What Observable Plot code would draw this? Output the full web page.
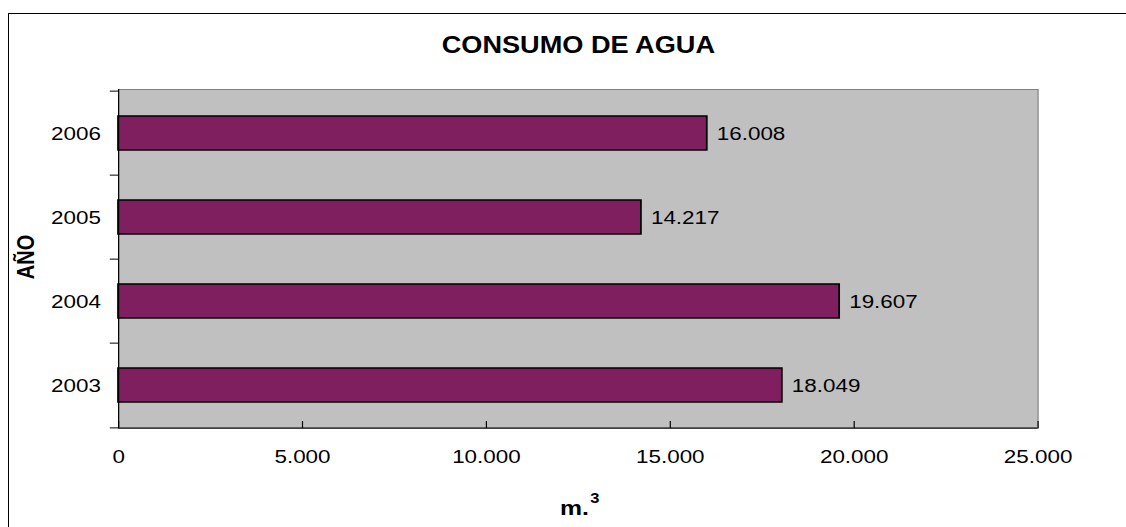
<!DOCTYPE html>
<html><head><meta charset="utf-8">
<script src="https://cdn.jsdelivr.net/npm/d3@7"></script>
<script src="https://cdn.jsdelivr.net/npm/@observablehq/plot@0.6"></script>
<style>
html,body{margin:0;padding:0;background:#fff;overflow:hidden;width:1126px;height:527px;}
#border{position:absolute;left:8px;top:13px;width:1200px;height:600px;border-left:1px solid #000;border-top:1px solid #000;}
#chart{position:absolute;left:0;top:0;}
</style></head><body>
<div id="border"></div><div id="chart"></div>
<script>
const years = ["2003", "2004", "2005", "2006"];
const consumo = [18049, 19607, 14217, 16008];
const xTicks = [0, 5000, 10000, 15000, 20000, 25000];
const title = "CONSUMO DE AGUA";
const xLabel = "m.";
const xLabelSup = "3";
const yLabel = "AÑO";

const data = years.map((y, i) => ({year: y, value: consumo[i]}));
const fmt = d3.formatLocale({decimal: ",", thousands: ".", grouping: [3], currency: ["", ""]}).format(",");

const W = 1126, H = 527, SX = 1.18;
const w = Math.round(W / SX);
const mt = 89, mb = 99, ml = 100, mr = w - 879;
const half = (H - mt - mb) / years.length / 2;
const font = "'Liberation Sans', Arial, sans-serif";

const plot = Plot.plot({
  width: w, height: H,
  marginTop: mt, marginBottom: mb, marginLeft: ml, marginRight: mr,
  style: {fontFamily: font, fontSize: "19px", color: "#000", background: "transparent", overflow: "visible"},
  x: {domain: [0, 25000]},
  y: {domain: [...years].reverse(), paddingInner: 0.6, paddingOuter: 0.3},
  marks: [
    Plot.frame({fill: "#c0c0c0", stroke: "#808080"}),
    Plot.barX(data, {x: "value", y: "year", fill: "#7f1f5f", stroke: "#000", strokeWidth: 1.5}),
    Plot.text(data, {x: "value", y: "year", text: d => fmt(d.value), textAnchor: "start", dx: 8, fill: "#000", fontSize: 19}),
    Plot.ruleX([0], {stroke: "#000"}),
    Plot.ruleY([years[0]], {dy: half, stroke: "#000"}),
    Plot.axisY({tickSize: 7, text: null, dy: -half, label: null}),
    Plot.axisY([years[0]], {tickSize: 7, text: null, dy: half, label: null}),
    Plot.axisY({tickSize: 0, tickPadding: 15, label: null, fontSize: 19}),
    Plot.axisX(xTicks, {tickSize: 7, dy: -7, text: null, label: null}),
    Plot.axisX(xTicks, {tickSize: 0, tickPadding: 21, label: null, tickFormat: fmt, fontSize: 19}),
    Plot.text([title], {frameAnchor: "top", textAnchor: "middle", dy: -44, fontWeight: "bold", fontSize: 23, lineAnchor: "middle"}),
    Plot.text([xLabel], {frameAnchor: "bottom", textAnchor: "end", dx: 9, dy: 80, fontWeight: "bold", fontSize: 21, lineAnchor: "middle"}),
    Plot.text([xLabelSup], {frameAnchor: "bottom", textAnchor: "start", dx: 10, dy: 70, fontWeight: "bold", fontSize: 14, lineAnchor: "middle"}),
    Plot.text([yLabel], {frameAnchor: "left", textAnchor: "middle", dx: -78, dy: -2, rotate: -90, fontWeight: "bold", fontSize: 20, lineAnchor: "middle"})
  ]
});
plot.setAttribute("preserveAspectRatio", "none");
plot.style.width = W + "px";
plot.style.height = H + "px";
plot.style.maxWidth = "none";
document.getElementById("chart").appendChild(plot);
</script>
</body></html>
